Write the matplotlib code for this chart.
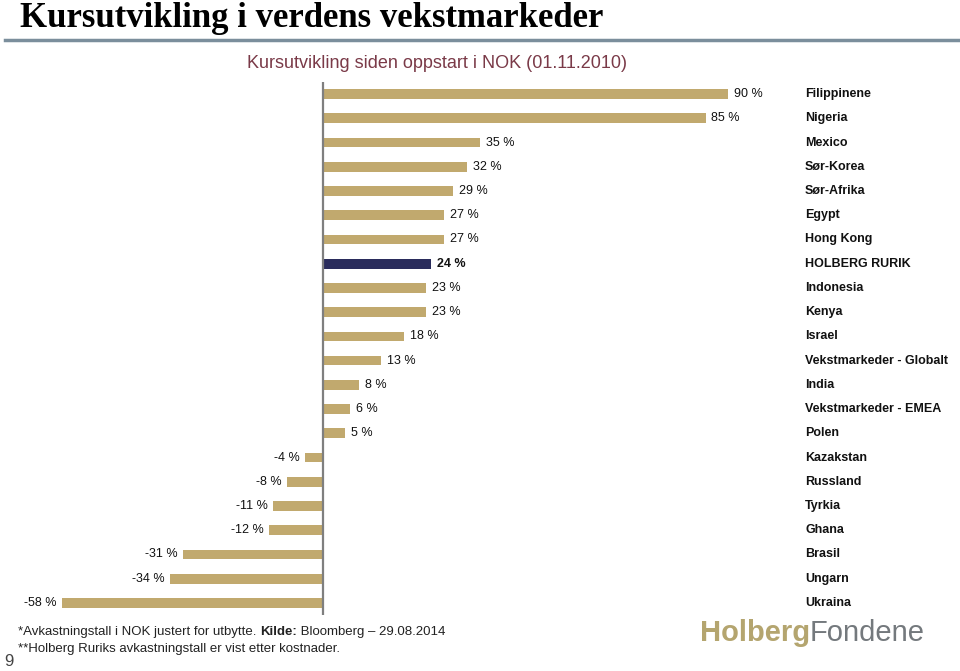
import matplotlib
matplotlib.use("Agg")
import matplotlib.pyplot as plt
from matplotlib.lines import Line2D

countries = ["Filippinene", "Nigeria", "Mexico", "Sør-Korea", "Sør-Afrika", "Egypt",
             "Hong Kong", "HOLBERG RURIK", "Indonesia", "Kenya", "Israel",
             "Vekstmarkeder - Globalt", "India", "Vekstmarkeder - EMEA", "Polen",
             "Kazakstan", "Russland", "Tyrkia", "Ghana", "Brasil", "Ungarn", "Ukraina"]
values = [90, 85, 35, 32, 29, 27, 27, 24, 23, 23, 18, 13, 8, 6, 5,
          -4, -8, -11, -12, -31, -34, -58]
highlight = "HOLBERG RURIK"

W, H = 960, 671
fig = plt.figure(figsize=(W / 100, H / 100), dpi=100)
plt.rcParams['font.family'] = ['Liberation Sans', 'DejaVu Sans']

def fx(x):
    return x / W

def fy(y):
    return 1 - y / H

# axes placement in pixels
ax_left, ax_right, ax_top, ax_bot = 0, 790, 82, 615
ax = fig.add_axes([fx(ax_left), fy(ax_bot), fx(ax_right - ax_left), (ax_bot - ax_top) / H])
scale = 4.5  # px per %
zero_px = 323
ax.set_xlim(-(zero_px - ax_left) / scale, (ax_right - zero_px) / scale)
ax.set_ylim(21.5, -0.5)
ax.axis("off")

gold = "#c1a96e"
navy = "#2a2c5c"
ypos = list(range(len(countries)))
colors = [navy if c == highlight else gold for c in countries]
ax.barh(ypos, values, height=0.4, color=colors, zorder=2)
ax.axvline(0, color="#7f7f7f", lw=1.6, zorder=3)

for y, v, c in zip(ypos, values, countries):
    bold = (c == highlight)
    if v >= 0:
        ax.annotate(f"{v} %", (v, y), xytext=(4, 0), textcoords="offset points",
                    ha="left", va="center", fontsize=9,
                    fontweight="bold" if bold else "normal", color="#111111")
    else:
        ax.annotate(f"{v} %", (v, y), xytext=(-4, 0), textcoords="offset points",
                    ha="right", va="center", fontsize=9, color="#111111")
    ax.text(805 / 790, y, c, transform=ax.get_yaxis_transform(), ha="left", va="center",
            fontsize=9, fontweight="bold", color="#111111", clip_on=False)

# Title
fig.text(fx(20), fy(27), "Kursutvikling i verdens vekstmarkeder",
         family=["Liberation Serif", "DejaVu Serif"], fontweight="bold",
         fontsize=25, ha="left", va="baseline", color="#000000")
fig.add_artist(Line2D([fx(5), fx(960)], [fy(40), fy(40)], color="#7b8e9c", lw=2.5))

# Subtitle
fig.text(fx(437), fy(68), "Kursutvikling siden oppstart i NOK (01.11.2010)",
         fontsize=13, ha="center", va="baseline", color="#7a3a48")

# Footnotes
fs = 9.5
t1 = fig.text(fx(18), fy(632), "*Avkastningstall i NOK justert for utbytte. ",
              fontsize=fs, ha="left", va="center", color="#222222")
fig.canvas.draw()
r = fig.canvas.get_renderer()
bb = t1.get_window_extent(r)
t2 = fig.text(bb.x1 / W, fy(632), "Kilde:", fontsize=fs, fontweight="bold",
              ha="left", va="center", color="#222222")
bb2 = t2.get_window_extent(r)
fig.text(bb2.x1 / W, fy(632), " Bloomberg – 29.08.2014", fontsize=fs,
         ha="left", va="center", color="#222222")
fig.text(fx(18), fy(649), "**Holberg Ruriks avkastningstall er vist etter kostnader.",
         fontsize=fs, ha="left", va="center", color="#222222")
fig.text(fx(4), fy(662), "9", fontsize=12, ha="left", va="center", color="#444444")

# Logo
l1 = fig.text(fx(700), fy(641), "Holberg", fontsize=21, fontweight="bold",
              ha="left", va="baseline", color="#b4a56f")
bb3 = l1.get_window_extent(r)
fig.text(bb3.x1 / W, fy(641), "Fondene", fontsize=21, ha="left", va="baseline",
         color="#74797d")

fig.savefig("out.png", dpi=100)
